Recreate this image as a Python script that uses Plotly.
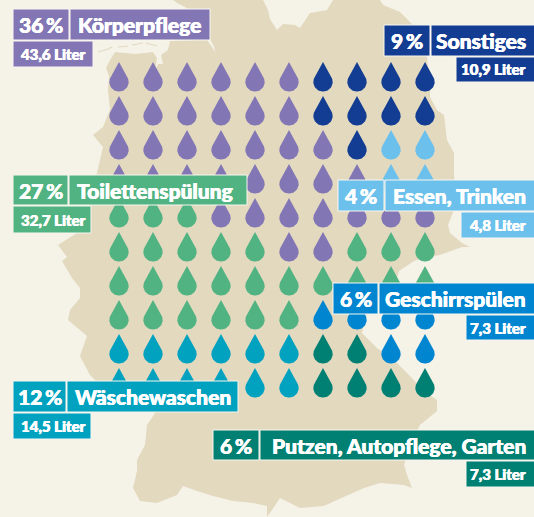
import numpy as np
import plotly.graph_objects as go

# ---- data ----
categories = ["Körperpflege", "Toilettenspülung", "Wäschewaschen", "Sonstiges",
              "Geschirrspülen", "Putzen, Autopflege, Garten", "Essen, Trinken"]
percents = [36, 27, 12, 9, 6, 6, 4]
liters = ["43,6", "32,7", "14,5", "10,9", "7,3", "7,3", "4,8"]
colors = ["#8276B4", "#52B382", "#00A2C0", "#133D92", "#0086D0", "#007F73", "#6CC0EC"]

# which category each drop belongs to (10 x 10 grid, one drop = 1 %)
grid_rows = ["KKKKKKSSSS",
             "KKKKKKSSSS",
             "KKKKKKKSEE",
             "KKKKKKKKEE",
             "TTTKKKKKKK",
             "TTTTTKKTTT",
             "TTTTTTTTTT",
             "TTTTTTGGGG",
             "WWWWWWPPGG",
             "WWWWWWPPPP"]
codes = ["K", "T", "W", "S", "G", "P", "E"]

BG = "#F5F2E8"
LAND = "#E2D9BF"
W, H = 534, 517
PITCH = 34.0

# map outline (x, y in px)
land = [(173,0),(177,3),(185,7),(195,14),(198,30),(204,36),(207,40),(212,47),(215,52),(214,46),(208,36),
        (200,40),(170,41),(168,50),(161,55),(163,64),(158,64),(155,71),(157,58),(153,52),(135,54),(115,52),
        (110,60),(106,68),(109,76),(108,90),(110,110),(103,127),(93,135),(103,147),(100,160),(97,173),
        (92,195),(85,218),(77,233),(58,245),(67,257),(62,261),(72,278),(80,288),(80,298),(70,310),(68,320),
        (87,336),(80,356),(90,375),(110,395),(155,413),(147,425),(145,445),(137,460),(137,471),(133,488),
        (140,501),(157,503),(177,495),(183,486),(197,491),(213,496),(233,501),(253,503),(267,506),(267,517),
        (272,510),(280,498),(300,508),(324,506),(337,500),(364,488),(380,483),(404,485),(412,488),(407,475),
        (404,465),(410,445),(420,425),(437,411),(437,400),(424,391),(410,376),(395,361),(377,348),(362,333),
        (367,313),(385,290),(397,278),(399,271),(414,261),(424,258),(440,255),(462,247),(470,247),(462,243),
        (450,233),(448,225),(456,205),(454,173),(454,153),(447,140),(444,115),(437,110),(430,97),(430,83),
        (427,57),(413,25),(400,12),(383,5),(380,0),(333,0),(327,10),(310,13),(300,28),(295,25),(283,24),
        (277,30),(270,19),(268,10),(263,0)]
islands = [[(98,52),(108,49),(112,47)], [(118,47),(128,46)], [(132,45),(143,43)], [(146,43),(157,46)]]


def drop_outline():
    """one drop in px around its tip, bottom circle + concave sides"""
    r, h = 9.7, 29.6
    cy = h - r
    a = np.linspace(np.radians(-18), np.radians(198), 40)
    cx_arc = r * np.cos(a)
    cy_arc = cy + r * np.sin(a)
    t = np.linspace(0, 1, 14)
    p0 = np.array([0.0, 0.0])
    p1 = np.array([2.4, 5.0])
    p2 = np.array([cx_arc[0], cy_arc[0]])
    bx = (1 - t) ** 2 * p0[0] + 2 * t * (1 - t) * p1[0] + t ** 2 * p2[0]
    by = (1 - t) ** 2 * p0[1] + 2 * t * (1 - t) * p1[1] + t ** 2 * p2[1]
    xs = np.concatenate([bx, cx_arc, -bx[::-1]])
    ys = np.concatenate([by, cy_arc, by[::-1]])
    return xs, ys


dx, dy = drop_outline()
fig = go.Figure()
for code, color, name in zip(codes, colors, categories):
    xs, ys = [], []
    for r, row in enumerate(grid_rows):
        for c, ch in enumerate(row):
            if ch == code:
                xs += list(c + dx / PITCH) + [None]
                ys += list(r + dy / PITCH) + [None]
    fig.add_trace(go.Scatter(x=xs, y=ys, mode="lines", fill="toself", fillcolor=color,
                             line=dict(width=0, color=color), hoverinfo="skip",
                             name=name, showlegend=False))

px = lambda x: x / W
py = lambda y: 1 - y / H
shapes = []
path = "M" + " L".join(f"{px(x):.4f},{py(y):.4f}" for x, y in land) + " Z"
shapes.append(dict(type="path", xref="paper", yref="paper", path=path, fillcolor=LAND,
                   line=dict(width=0), layer="below"))
for isl in islands:
    p = "M" + " L".join(f"{px(x):.4f},{py(y):.4f}" for x, y in isl)
    shapes.append(dict(type="path", xref="paper", yref="paper", path=p,
                       line=dict(width=1.2, color=LAND), layer="below"))

# label boxes: pct box, name box, sub box (x0,x1,y0,y1)
boxes = {
    "Körperpflege": ((13, 69, 9, 40), (70, 210, 9, 40), (13, 93, 41, 67), "left"),
    "Toilettenspülung": ((13, 68, 175, 205), (69, 247, 175, 205), (13, 91, 206, 233), "left"),
    "Wäschewaschen": ((13, 66, 381, 412), (67, 238, 381, 412), (13, 91, 413, 439), "left"),
    "Sonstiges": ((384, 430, 25, 56), (431, 535, 25, 56), (456, 535, 57, 82), "right"),
    "Geschirrspülen": ((333, 378, 283, 314), (379, 535, 283, 314), (466, 535, 315, 340), "right"),
    "Putzen, Autopflege, Garten": ((213, 259, 430, 460), (260, 535, 430, 460), (466, 535, 461, 487), "right"),
    "Essen, Trinken": ((338, 384, 180, 211), (385, 535, 180, 211), (461, 535, 212, 238), "right"),
}
FONT = "Lato"
THICK = "0.35px 0 0 white, -0.35px 0 0 white"
annotations = []


def note(x, y, text, size, anchor):
    annotations.append(dict(x=px(x), y=py(y), xref="paper", yref="paper", text=text,
                            showarrow=False, xanchor=anchor, yanchor="middle",
                            font=dict(family=FONT, size=size, color="white", weight=900, shadow=THICK),
                            borderpad=0))


for i, name in enumerate(categories):
    pb, nb, sb, side = boxes[name]
    for b in (pb, nb, sb):
        shapes.append(dict(type="rect", xref="paper", yref="paper",
                           x0=px(b[0]), x1=px(b[1]), y0=py(b[2]), y1=py(b[3]),
                           fillcolor=colors[i], line=dict(color="#F8F6EF", width=1), layer="above"))
    note((pb[0] + pb[1]) / 2, (pb[2] + pb[3]) / 2, f"{percents[i]}\u2009%", 21, "center")
    if side == "left":
        note(nb[0] + 7, (nb[2] + nb[3]) / 2, name, 21, "left")
        note(sb[0] + 7, (sb[2] + sb[3]) / 2, f"{liters[i]} Liter", 15, "left")
    else:
        note(527, (nb[2] + nb[3]) / 2, name, 21, "right")
        note(527, (sb[2] + sb[3]) / 2, f"{liters[i]} Liter", 15, "right")

fig.update_layout(
    width=W, height=H, autosize=False, margin=dict(l=0, r=0, t=0, b=0),
    paper_bgcolor=BG, plot_bgcolor="rgba(0,0,0,0)", showlegend=False,
    shapes=shapes, annotations=annotations,
    xaxis=dict(range=[-119 / PITCH, (W - 119) / PITCH], visible=False, fixedrange=True),
    yaxis=dict(range=[(H - 62) / PITCH, -62 / PITCH], visible=False, fixedrange=True),
)
fig.write_html("out.html", config=dict(displayModeBar=False),
               post_script="document.body.style.margin='0';document.documentElement.style.overflow='hidden';document.body.style.background='#F5F2E8';")
